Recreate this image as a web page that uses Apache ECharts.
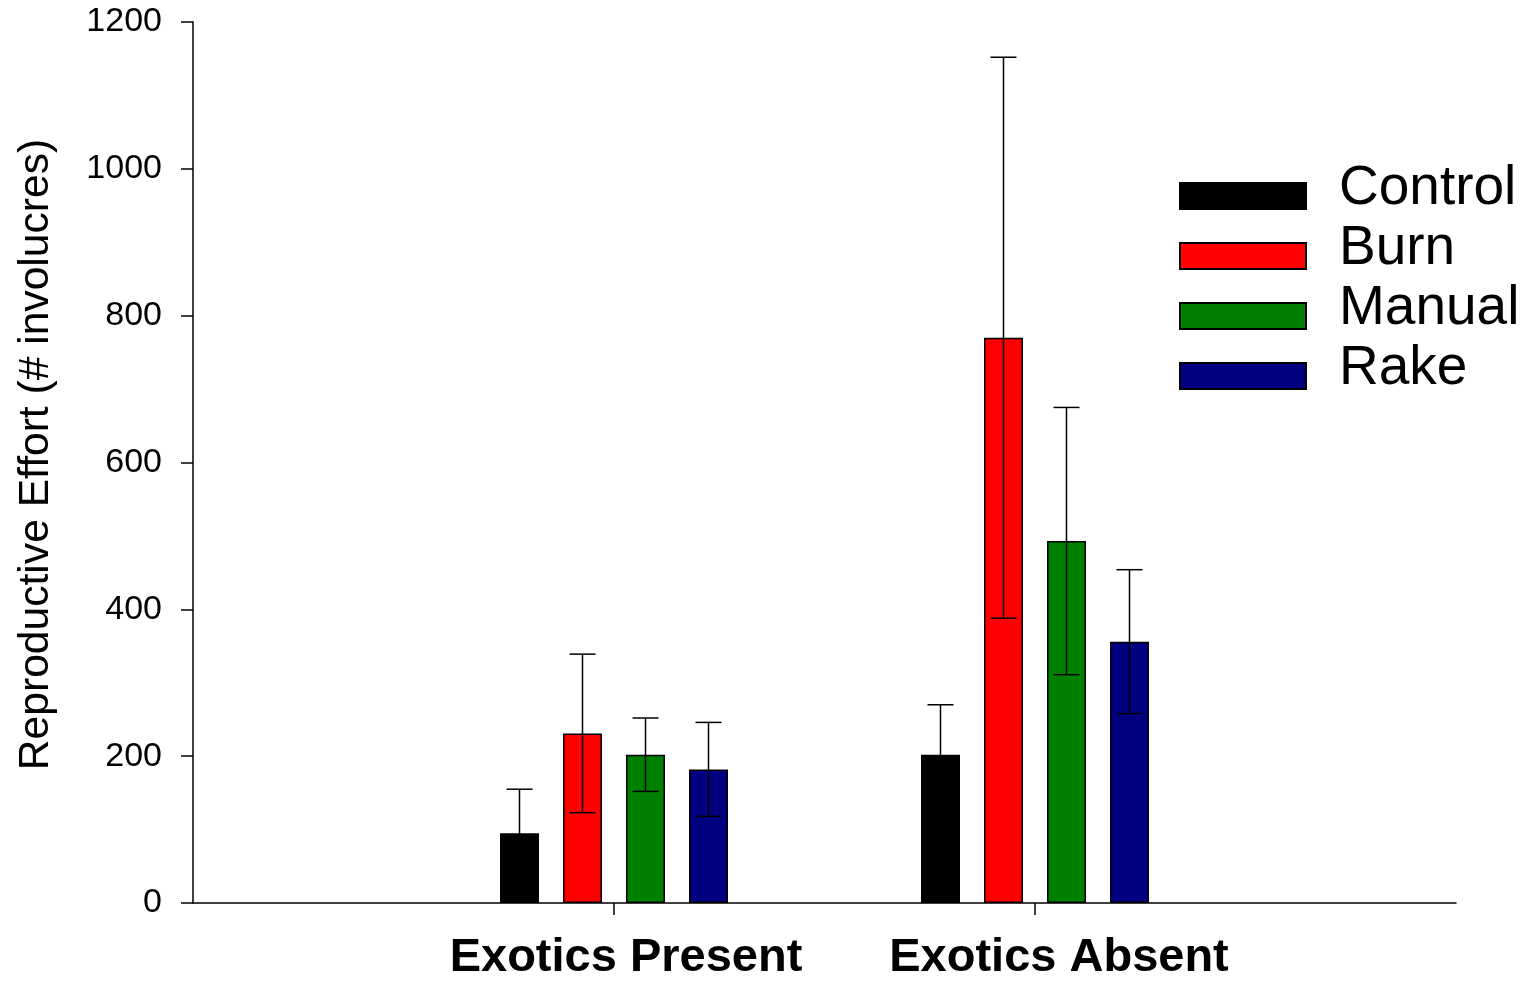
<!DOCTYPE html>
<html>
<head>
<meta charset="utf-8">
<script src="https://cdn.jsdelivr.net/npm/echarts@6/dist/echarts.min.js"></script>
<style>
html,body{margin:0;padding:0;background:#fff;}
#chart{width:1529px;height:982px;}
</style>
</head>
<body>
<div id="chart"></div>
<script>
// ---- Data ----
const categories = ['', 'Exotics Present', 'Exotics Absent', ''];
const treatments = ['Control', 'Burn', 'Manual', 'Rake'];
const colors = ['#000000', '#FF0000', '#008000', '#000080'];
// means per treatment: [Exotics Present, Exotics Absent]
const controlMean = [95, 202];
const burnMean = [231, 770];
const manualMean = [202, 493];
const rakeMean = [182, 356];
// standard errors
const controlErr = [60, 68];
const burnErr = [108, 382];
const manualErr = [50, 182];
const rakeErr = [64, 98];
const yTicks = [0, 200, 400, 600, 800, 1000, 1200];

const means = [controlMean, burnMean, manualMean, rakeMean];
const errs = [controlErr, burnErr, manualErr, rakeErr];

const FONT = "'Liberation Sans', Arial, sans-serif";
const BAR_W = 39;
const BAR_GAP = 24;

const chart = echarts.init(document.getElementById('chart'), null, {renderer: 'canvas'});

const series = [];
treatments.forEach((name, i) => {
  series.push({
    name: name,
    type: 'bar',
    barWidth: BAR_W,
    barGap: (BAR_GAP / BAR_W * 100) + '%',
    itemStyle: {color: colors[i], borderColor: '#000', borderWidth: 1.5},
    data: ['-', means[i][0], means[i][1], '-'],
    z: 2
  });
});
treatments.forEach((name, i) => {
  const offset = (i - (treatments.length - 1) / 2) * (BAR_W + BAR_GAP);
  series.push({
    name: name + ' SE',
    type: 'custom',
    z: 5,
    data: [[1, means[i][0], errs[i][0]], [2, means[i][1], errs[i][1]]],
    renderItem: function (params, api) {
      const c = api.value(0), m = api.value(1), e = api.value(2);
      const x = api.coord([c, m])[0] + offset;
      const yHi = api.coord([c, m + e])[1];
      const yLo = api.coord([c, m - e])[1];
      const hw = 13;
      const st = {stroke: '#000', lineWidth: 1.5};
      return {
        type: 'group',
        children: [
          {type: 'line', shape: {x1: x, y1: yHi, x2: x, y2: yLo}, style: st},
          {type: 'line', shape: {x1: x - hw, y1: yHi, x2: x + hw, y2: yHi}, style: st},
          {type: 'line', shape: {x1: x - hw, y1: yLo, x2: x + hw, y2: yLo}, style: st}
        ]
      };
    }
  });
});

const option = {
  backgroundColor: '#fff',
  animation: false,
  grid: {left: 193, right: 73, top: 22, bottom: 76, containLabel: false},
  legend: {
    data: treatments,
    orient: 'vertical',
    left: 1179,
    top: 161,
    padding: 0,
    icon: 'rect',
    itemWidth: 126,
    itemHeight: 26,
    itemGap: 5,
    selectedMode: false,
    formatter: function (name) { return '{n|' + name + '}{s| }'; },
    textStyle: {
      fontFamily: FONT, fontSize: 55, color: '#000', padding: [0, 0, 0, 28],
      rich: {
        n: {fontFamily: FONT, fontSize: 55, lineHeight: 55, color: '#000', verticalAlign: 'top'},
        s: {fontFamily: FONT, fontSize: 1, lineHeight: 70, color: '#000'}
      }
    }
  },
  xAxis: {
    type: 'category',
    data: categories,
    boundaryGap: false,
    axisLine: {lineStyle: {color: '#000', width: 1.5}},
    axisTick: {
      length: 12,
      lineStyle: {color: '#000', width: 1.5},
      interval: function (idx) { return idx === 1 || idx === 2; }
    },
    axisLabel: {
      interval: 0,
      margin: 32,
      fontFamily: FONT,
      fontSize: 47,
      fontWeight: 'bold',
      color: '#000',
      formatter: function (v, idx) {
        if (!v) return '';
        return idx === 1 ? '{p|' + v + '}' : '{a|' + v + '}';
      },
      rich: {
        p: {fontFamily: FONT, fontSize: 47, fontWeight: 'bold', color: '#000', padding: [0, 0, 0, 24]},
        a: {fontFamily: FONT, fontSize: 47, fontWeight: 'bold', color: '#000', padding: [0, 0, 0, 48]}
      }
    },
    splitLine: {show: false}
  },
  yAxis: {
    type: 'value',
    min: yTicks[0],
    max: yTicks[yTicks.length - 1],
    interval: yTicks[1] - yTicks[0],
    name: 'Reproductive Effort (# involucres)',
    nameLocation: 'middle',
    nameGap: 135,
    nameTextStyle: {fontFamily: FONT, fontSize: 42.6, color: '#000', padding: [0, 0, 0, 16]},
    axisLine: {show: true, lineStyle: {color: '#000', width: 1.5}},
    axisTick: {show: true, length: 12, lineStyle: {color: '#000', width: 1.5}},
    axisLabel: {
      margin: 31, fontFamily: FONT, fontSize: 34, color: '#000',
      formatter: function (v) { return String(v); }
    },
    splitLine: {show: false}
  },
  series: series
};
chart.setOption(option);
</script>
</body>
</html>
